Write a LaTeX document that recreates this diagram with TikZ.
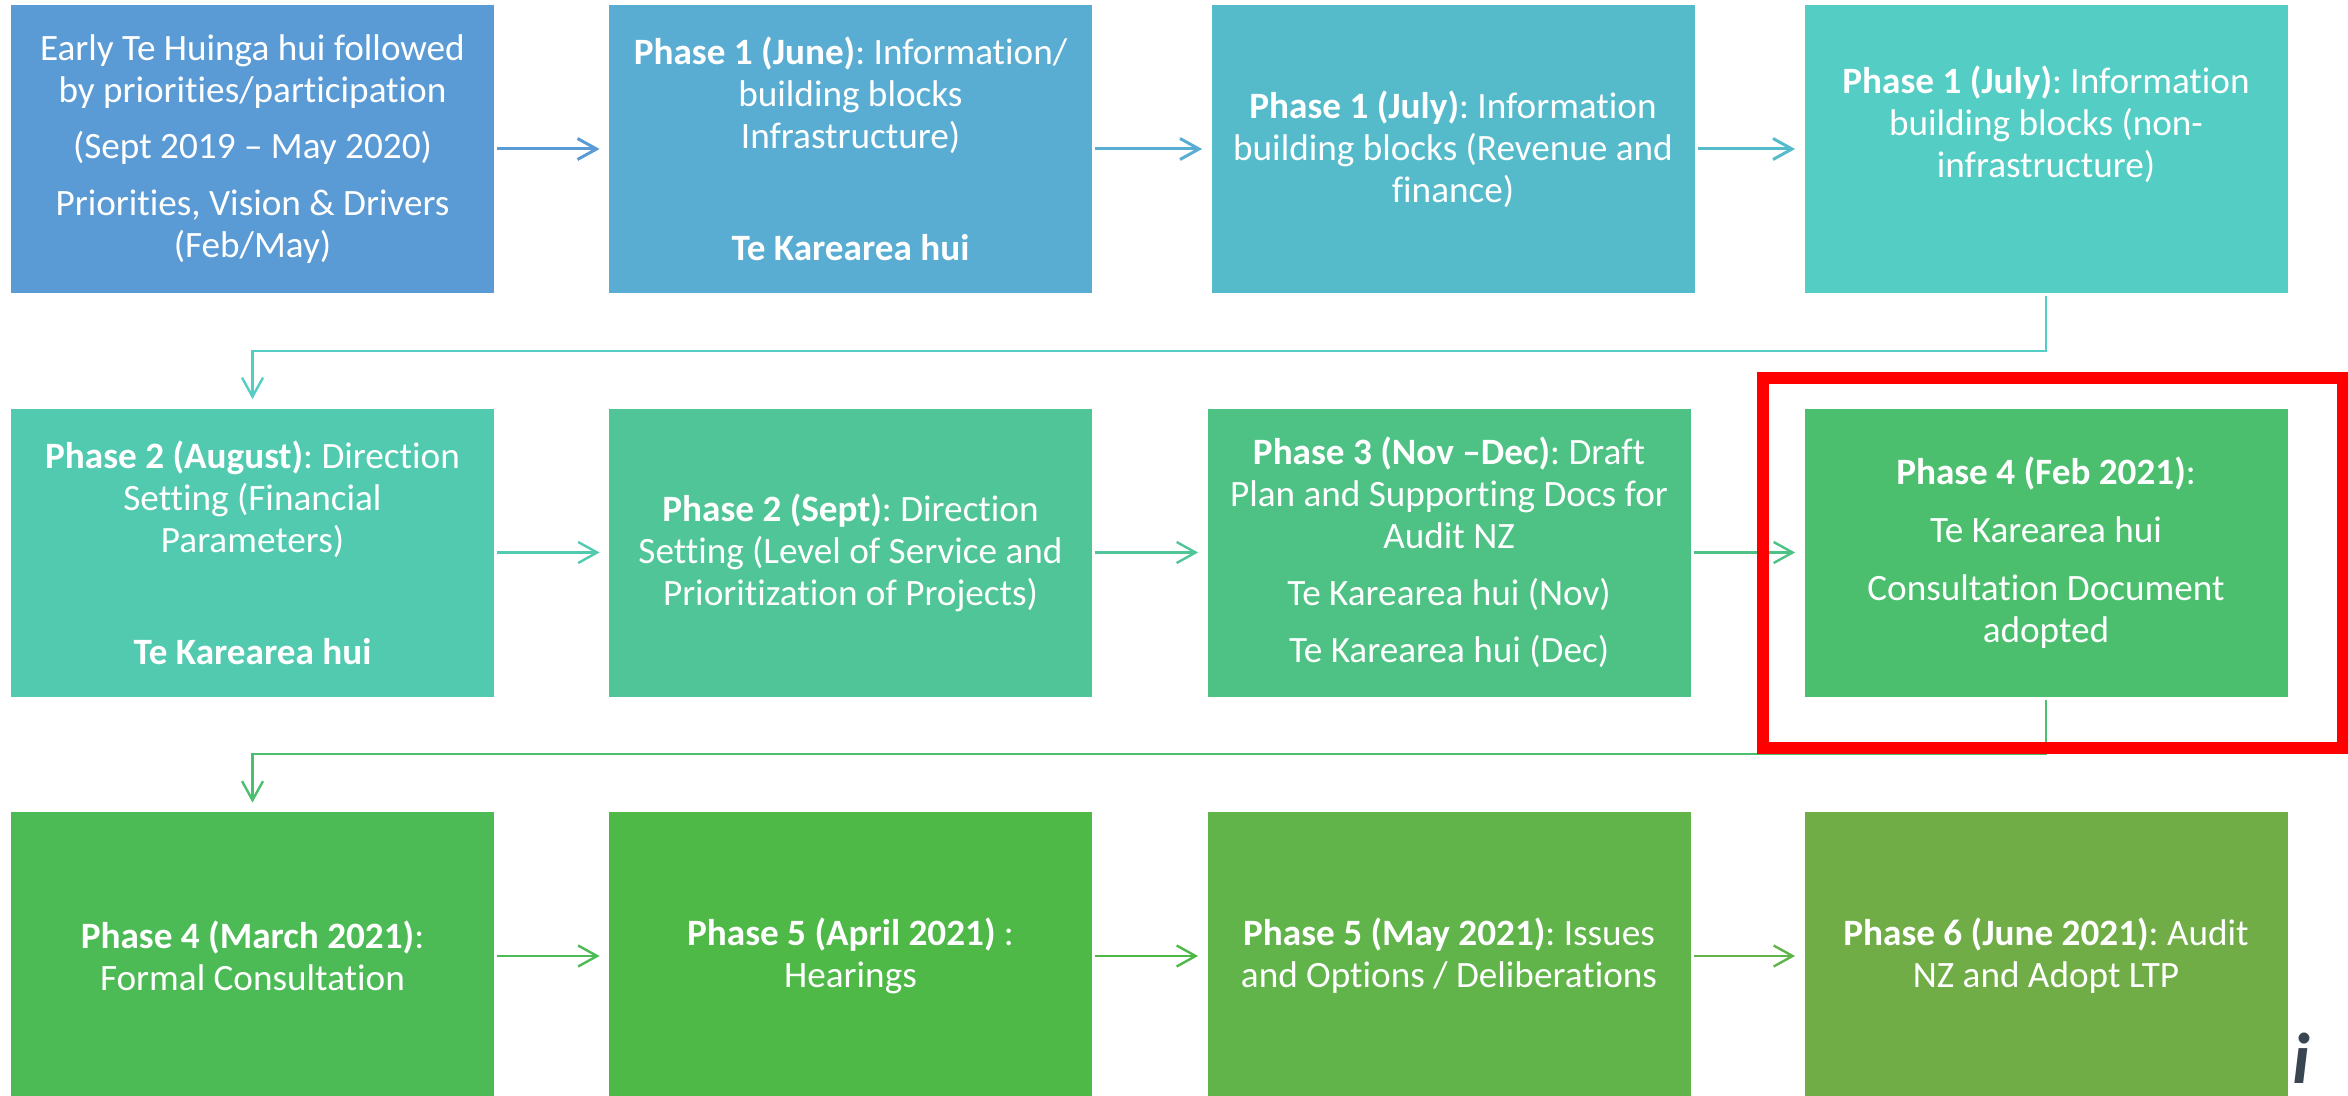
\documentclass[tikz,border=0pt]{standalone}
\usepackage{fontspec}
\setmainfont[Ligatures={TeX,NoCommon}]{Carlito}
\usetikzlibrary{arrows.meta}
\definecolor{StepA}{HTML}{5B9BD5}
\definecolor{StepB}{HTML}{5AADD2}
\definecolor{StepC}{HTML}{55BBCB}
\definecolor{StepD}{HTML}{54CDC4}
\definecolor{StepE}{HTML}{52CAB0}
\definecolor{StepF}{HTML}{50C597}
\definecolor{StepG}{HTML}{4EC284}
\definecolor{StepH}{HTML}{4CBF6E}
\definecolor{StepI}{HTML}{4CBB55}
\definecolor{StepJ}{HTML}{4EB947}
\definecolor{StepK}{HTML}{61B44A}
\definecolor{StepL}{HTML}{70AD47}
\definecolor{LogoInk}{HTML}{3A4552}
\frenchspacing
\begin{document}
\begin{tikzpicture}
    [x=0.5pt,y=-0.5pt,
    phase box/.style={rectangle,inner sep=0pt,text=white,align=center,
        minimum width=241.5pt,minimum height=144pt,
        font=\fontsize{18.6}{21}\selectfont},
    flow line/.style={line width=1.2pt,-{Straight Barb[length=9.5pt,width=10.5pt]},
        shorten <=1.5pt,shorten >=4.5pt},
    top line/.style={flow line,line width=1.5pt},
    focus frame/.style={draw=red,line width=6pt},
    ]

    \path[use as bounding box,clip] (0,0) rectangle (2348,1096);

    %first row
    \node[phase box,fill=StepA] (EarlyHui) at (252.5,149) {Early Te Huinga hui followed\\by priorities/participation\\[7pt](Sept 2019 -- May 2020)\\[7.5pt]Priorities, Vision \& Drivers\\(Feb/May)};
    \node[phase box,fill=StepB] (JuneInfo) at (850.5,149) {\textbf{Phase 1 (June)}: Information/\\building blocks\\Infrastructure)\\[35pt]\textbf{Te Karearea hui}};
    \node[phase box,fill=StepC] (JulyRevenue) at (1453,149) {\textbf{Phase 1 (July)}: Information\\building blocks (Revenue and\\finance)};
    \node[phase box,fill=StepD] (JulyOther) at (2046,149) {\textbf{Phase 1 (July)}: Information\\building blocks (non-\\infrastructure)\\[6pt]~};

    %second row
    \node[phase box,fill=StepE] (AugustSetting) at (252.5,552.5) {\textbf{Phase 2 (August)}: Direction\\Setting (Financial\\Parameters)\\[35pt]\textbf{Te Karearea hui}};
    \node[phase box,fill=StepF] (SeptSetting) at (850.5,552.5) {\textbf{Phase 2 (Sept)}: Direction\\Setting (Level of Service and\\Prioritization of Projects)};
    \node[phase box,fill=StepG] (DraftPlan) at (1449,552.5) {\textbf{Phase 3 (Nov --Dec)}: Draft\\Plan and Supporting Docs for\\Audit NZ\\[7.5pt]Te Karearea hui (Nov)\\[7.5pt]Te Karearea hui (Dec)};
    \node[phase box,fill=StepH] (FebAdopted) at (2046,552.5) {\textbf{Phase 4 (Feb 2021)}:\\[8pt]Te Karearea hui\\[8pt]Consultation Document\\adopted};

    %third row
    \node[phase box,fill=StepI] (MarchConsult) at (252.5,956) {\textbf{Phase 4 (March 2021)}:\\Formal Consultation};
    \node[phase box,fill=StepJ] (AprilHearings) at (850.5,956) {\textbf{Phase 5 (April 2021)} :\\Hearings};
    \node[phase box,fill=StepK] (MayOptions) at (1449,956) {\textbf{Phase 5 (May 2021)}: Issues\\and Options / Deliberations};
    \node[phase box,fill=StepL] (JuneAudit) at (2046,956) {\textbf{Phase 6 (June 2021)}: Audit\\NZ and Adopt LTP};

    %arrows
    \draw[top line,StepA] (EarlyHui) -- (JuneInfo);
    \draw[top line,StepB] (JuneInfo) -- (JulyRevenue);
    \draw[top line,StepC] (JulyRevenue) -- (JulyOther);
    \draw[flow line,StepE] (AugustSetting) -- (SeptSetting);
    \draw[flow line,StepF] (SeptSetting) -- (DraftPlan);
    \draw[flow line,StepG] (DraftPlan) -- (FebAdopted);
    \draw[flow line,StepI] (MarchConsult) -- (AprilHearings);
    \draw[flow line,StepJ] (AprilHearings) -- (MayOptions);
    \draw[flow line,StepK] (MayOptions) -- (JuneAudit);

    %turns between rows
    \coordinate (TurnOne) at (2046,351);
    \coordinate (TurnTwo) at (2046,754);
    \draw[flow line,StepD] (JulyOther.south) -- (TurnOne) -| (AugustSetting.north);
    \draw[flow line,StepH] (FebAdopted.south) -- (TurnTwo) -| (MarchConsult.north);

    %highlight and logo
    \draw[focus frame] (1763,378) rectangle (2343,748);
    \node[text=LogoInk,inner sep=0pt,font=\fontsize{36}{36}\selectfont\bfseries\itshape] (LogoMark) at (2301,1058) {i};

\end{tikzpicture}
\end{document}
